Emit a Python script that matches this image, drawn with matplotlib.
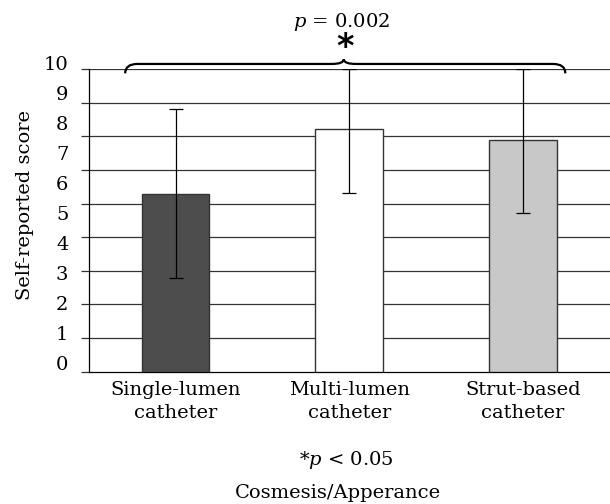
import matplotlib
matplotlib.use('Agg')
import matplotlib.pyplot as plt
from matplotlib.path import Path
from matplotlib.patches import PathPatch
from matplotlib.transforms import blended_transform_factory

plt.rcParams['font.family'] = ['DejaVu Serif']
plt.rcParams['mathtext.fontset'] = 'dejavuserif'

# values (in gridline units, axis 0..9)
categories = ['Single-lumen\ncatheter', 'Multi-lumen\ncatheter', 'Strut-based\ncatheter']
means = [5.28, 7.23, 6.90]
err_low = [2.48, 1.93, 2.17]
err_high = [2.53, 1.77, 2.10]
colors = ['#4d4d4d', '#ffffff', '#c8c8c8']
score_labels = list(range(0, 11))

FS = 14

fig = plt.figure(figsize=(6.1, 5.04), dpi=100)
ax = fig.add_axes([0.1454, 0.2625, 0.8546, 0.6006])

x = list(range(len(categories)))
ax.bar(x, means, width=0.39, color=colors, edgecolor='#333333', linewidth=1.0, zorder=3)
ax.errorbar(x, means, yerr=[err_low, err_high], fmt='none', ecolor='black',
            elinewidth=0.9, capsize=4.7, capthick=0.9, zorder=4)

ax.set_xlim(-0.5, 2.5)
ax.set_ylim(0, 9)
for g in range(1, 10):
    ax.axhline(g, color='#333333', linewidth=0.9, zorder=1)

ax.set_yticks(range(0, 10))
ax.set_yticklabels([])
ax.tick_params(axis='y', length=5.5, width=0.9, color='#333333', direction='out')
ax.set_xticks(x)
ax.set_xticklabels(categories, fontsize=FS, linespacing=1.3)
ax.tick_params(axis='x', length=0, pad=7)

for side in ['top', 'right']:
    ax.spines[side].set_visible(False)
ax.spines['left'].set_linewidth(0.9)
ax.spines['bottom'].set_linewidth(0.9)

# score labels sit on their own scale, slightly off the gridlines
trans = blended_transform_factory(ax.transAxes, ax.transData)
label_x = (68.5 - 88.7) / (610 - 88.7)
for s in score_labels:
    ax.text(label_x, s * 0.892 + 0.2, str(s), transform=trans, ha='right',
            va='center', fontsize=FS, clip_on=False)

fig.text(25 / 610, 1 - 205 / 504, 'Self-reported score', rotation=90,
         ha='center', va='center', fontsize=FS)

# brace over the three groups
xl, xc, xr = -0.29, 0.968, 2.243
yb, yt, yc = 8.87, 9.15, 9.29
dx = 0.07
verts = [(xl, yb), (xl, yt), (xl + dx, yt),
         (xc - dx, yt), (xc, yt), (xc, yc),
         (xc, yt), (xc + dx, yt),
         (xr - dx, yt), (xr, yt), (xr, yb)]
codes = [Path.MOVETO, Path.CURVE3, Path.CURVE3,
         Path.LINETO, Path.CURVE3, Path.CURVE3,
         Path.CURVE3, Path.CURVE3,
         Path.LINETO, Path.CURVE3, Path.CURVE3]
ax.add_patch(PathPatch(Path(verts, codes), facecolor='none', edgecolor='black',
                       linewidth=1.6, clip_on=False, zorder=5))

fig.text(345 / 610, 1 - 48 / 504, '*', ha='center', va='center', fontsize=24,
         fontweight='bold', family='DejaVu Sans')
fig.text(342 / 610, 1 - 21.7 / 504, r'$p$ = 0.002', ha='center', va='center', fontsize=FS)

fig.text(346 / 610, 1 - 460 / 504, r'*$p$ < 0.05', ha='center', va='center', fontsize=FS)
fig.text(338 / 610, 1 - 492.7 / 504, 'Cosmesis/Apperance', ha='center', va='center', fontsize=FS)

fig.savefig('out.png', dpi=100)
